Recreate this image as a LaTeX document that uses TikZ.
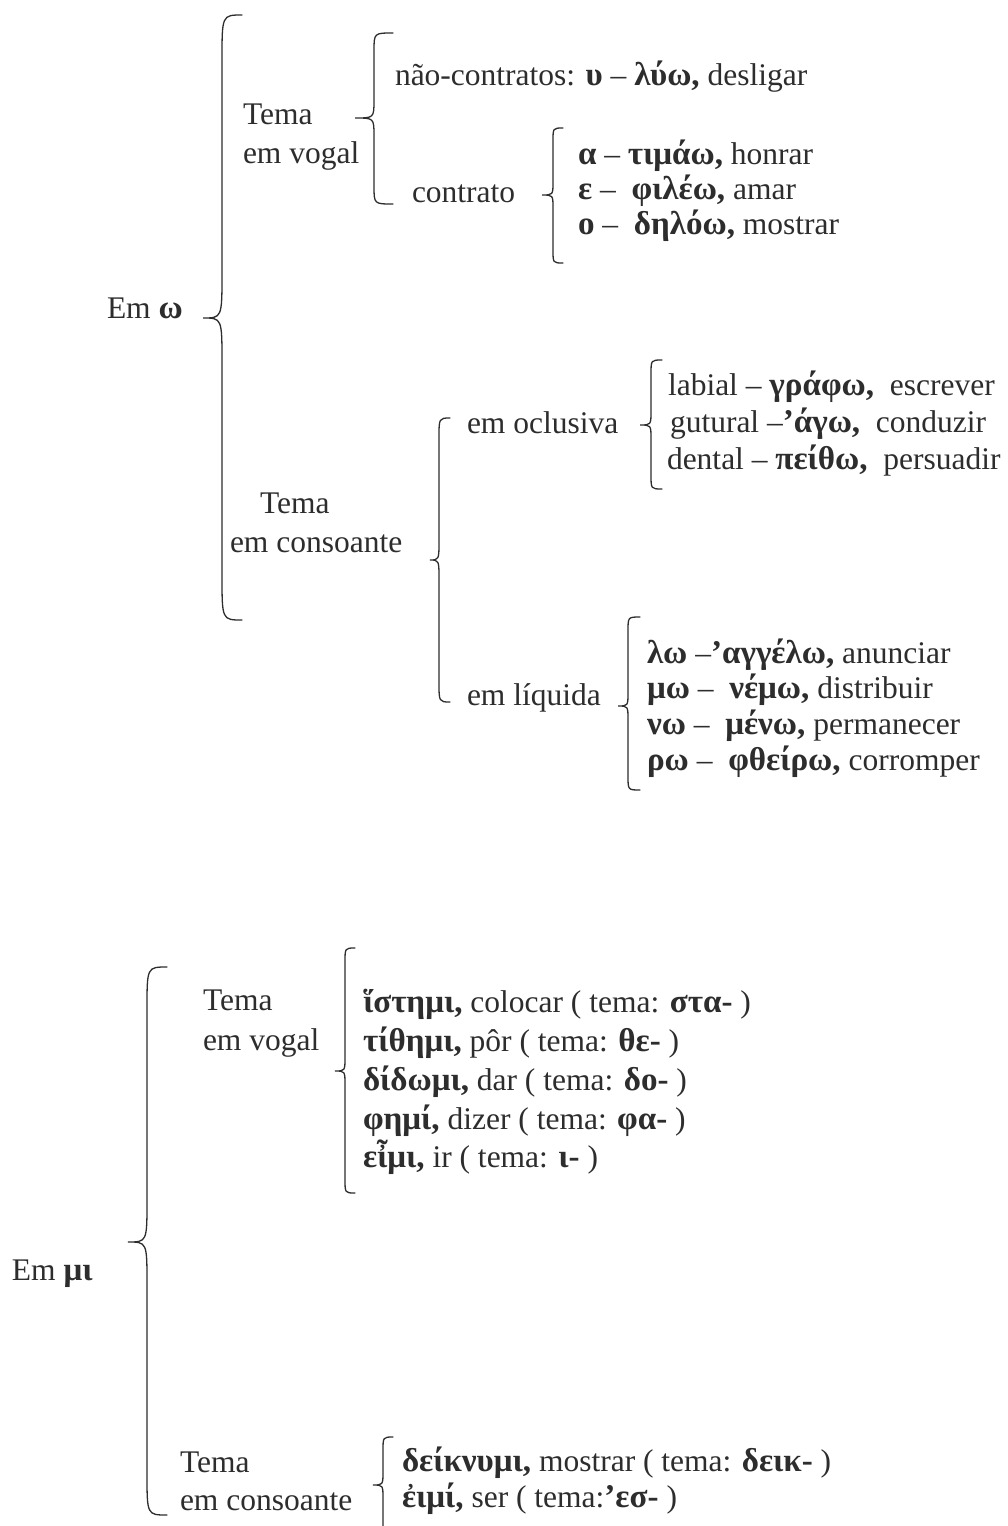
\documentclass[tikz,border=0pt]{standalone}
\usepackage{fontspec}
\setmainfont{Liberation Serif}
\newfontfamily\gkfont{Liberation Serif}[Scale=1.05]
\newcommand\gr[1]{{\gkfont\bfseries #1}}
\definecolor{ink}{RGB}{45,45,45}
% #1 end x, #2 stem x, #3 tip x, #4 top y, #5 tip y, #6 bottom y, #7 corner radius
\newcommand\cbrace[7]{\draw[bracestyle] (#1,#4) .. controls (#2,#4) .. (#2,{#4+#7}) -- (#2,{#5-#7}) .. controls (#2,#5) .. (#3,#5) .. controls (#2,#5) .. (#2,{#5+#7}) -- (#2,{#6-#7}) .. controls (#2,#6) .. (#1,#6);}
\begin{document}
\begin{tikzpicture}[x=1pt,y=-1pt,
  lbl/.style={inner sep=0pt, outer sep=0pt, anchor=base west, text=ink, font=\fontsize{31.5}{38}\selectfont},
  bracestyle/.style={draw=ink, line width=1.3pt, line cap=round}]
\useasboundingbox (0,0) rectangle (1007,1526);
\clip (0,0) rectangle (1007,1526);
\fill[white] (0,0) rectangle (1007,1526);

% ---------- Em omega ----------
\node[lbl] (emw) at (107,318) {Em \gr{ω}};
\cbrace{242}{222}{203}{15}{318}{620}{45}

\node[lbl] (tv1a) at (243,124) {Tema};
\node[lbl] (tv1b) at (243,163) {em vogal};
\cbrace{393}{374}{355}{33}{118}{204}{18}

\node[lbl] (naoc) at (395,85) {não-contratos: \gr{υ} – \gr{λύω,} desligar};
\node[lbl] (contr) at (412,202) {contrato};
\cbrace{563}{553}{542}{128}{195}{263}{13}
\node[lbl] (ca) at (578,164) {\gr{α} – \gr{τιμάω,} honrar};
\node[lbl] (ce) at (578,199) {\gr{ε} – \ \gr{φιλέω,} amar};
\node[lbl] (co) at (578,234) {\gr{ο} – \ \gr{δηλόω,} mostrar};

\node[lbl] (tc1a) at (260,513) {Tema};
\node[lbl] (tc1b) at (230,552) {em consoante};
\cbrace{450}{439}{430}{418}{560}{702}{20}

\node[lbl] (ocl) at (467,433) {em oclusiva};
\cbrace{662}{651}{640}{360}{425}{489}{14}
\node[lbl] (lab) at (668,395) {labial – \gr{γράφω,} \ escrever};
\node[lbl] (gut) at (670,432) {gutural –\gr{’άγω,} \ conduzir};
\node[lbl] (den) at (667,469) {dental – \gr{πείθω,} \ persuadir};

\node[lbl] (liq) at (467,705) {em líquida};
\cbrace{640}{628}{618}{617}{706}{790}{14}
\node[lbl] (l1) at (647,663) {\gr{λω} –\gr{’αγγέλω,} anunciar};
\node[lbl] (l2) at (647,698) {\gr{μω} – \ \gr{νέμω,} distribuir};
\node[lbl] (l3) at (647,734) {\gr{νω} – \ \gr{μένω,} permanecer};
\node[lbl] (l4) at (647,770) {\gr{ρω} – \ \gr{φθείρω,} corromper};

% ---------- Em mi ----------
\node[lbl] (emmi) at (12,1280) {Em \gr{μι}};
\cbrace{167}{147}{128}{967}{1242}{1515}{42}

\node[lbl] (tv2a) at (203,1010) {Tema};
\node[lbl] (tv2b) at (203,1050) {em vogal};
\cbrace{355}{345}{335}{948}{1071}{1193}{14}
\node[lbl] (m1) at (363,1012) {\gr{ἵστημι,} colocar ( tema: \gr{στα-} )};
\node[lbl] (m2) at (363,1051) {\gr{τίθημι,} pôr ( tema: \gr{θε-} )};
\node[lbl] (m3) at (363,1090) {\gr{δίδωμι,} dar ( tema: \gr{δο-} )};
\node[lbl] (m4) at (363,1129) {\gr{φημί,} dizer ( tema: \gr{φα-} )};
\node[lbl] (m5) at (363,1167) {\gr{εἶμι,} ir ( tema: \gr{ι-} )};

\node[lbl] (tc2a) at (180,1472) {Tema};
\node[lbl] (tc2b) at (180,1510) {em consoante};
\cbrace{393}{383}{373}{1437}{1485}{1540}{14}
\node[lbl] (d1) at (402,1471) {\gr{δείκνυμι,} mostrar ( tema: \gr{δεικ-} )};
\node[lbl] (d2) at (402,1507) {\gr{ἐιμί,} ser ( tema:\gr{’εσ-} )};
\end{tikzpicture}
\end{document}
